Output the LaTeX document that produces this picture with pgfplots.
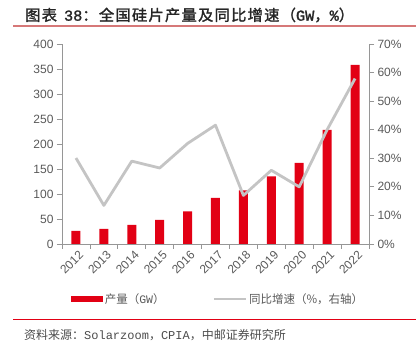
\documentclass[border=0pt]{standalone}
\usepackage{pgfplots}
\pgfplotsset{compat=1.18}
\usepackage{fontspec}
\setmainfont{Liberation Sans}
\newfontfamily\cjk{Noto Sans CJK SC}
\newfontfamily\cjkb{Noto Sans CJK SC}[FakeBold=1.5, LetterSpace=8]
\newfontfamily\mono{Liberation Mono}
\newfontfamily\monob{Liberation Mono}[FakeBold=1.5]
\definecolor{barred}{RGB}{226,0,20}
\definecolor{lgray}{RGB}{196,196,196}
\definecolor{axgray}{RGB}{150,150,150}
\definecolor{txtgray}{RGB}{89,89,89}
\definecolor{titleline}{RGB}{214,120,120}
\begin{document}
\begin{tikzpicture}
\useasboundingbox (0,0) rectangle (416pt,353pt);
% title
\node[anchor=west, inner sep=0pt, text=black!85] at (25pt,338pt)
  {\fontsize{15.3}{17}\selectfont\cjkb 图表\hspace{7pt}{\monob 38}：全国硅片产量及同比增速（{\monob GW}，{\monob\%}）};
\draw[titleline, line width=1.6pt] (13pt,327pt) -- (416pt,327pt);
% source
\draw[barred, line width=1pt] (13pt,33pt) -- (416pt,33pt);
\node[anchor=west, inner sep=0pt, text=black!70] at (24pt,18pt)
  {\fontsize{12}{14}\selectfont\cjk 资料来源：{\mono Solarzoom}，{\mono CPIA}，中邮证券研究所};
\begin{axis}[
  at={(62pt,109pt)}, anchor=south west, scale only axis,
  width=307pt, height=200pt,
  xmin=0, xmax=11, ymin=0, ymax=400,
  ytick={0,50,...,400},
  axis y line*=left, axis x line*=bottom,
  axis line style={axgray, line width=0.8pt},
  xtick={0,...,11},
  xticklabels={2012,2013,2014,2015,2016,2017,2018,2019,2020,2021,2022},
  x tick label as interval,
  tick align=outside, major tick length=5pt,
  tick style={axgray, line width=0.8pt},
  ticklabel style={font=\fontsize{12}{14}\selectfont, text=txtgray},
  xticklabel style={rotate=45, anchor=north east, inner sep=1pt, xshift=2pt, yshift=-1pt},
  /pgf/number format/assume math mode=true,
  clip=false,
]
\addplot[ybar, bar width=9pt, fill=barred, draw=none] coordinates {
(0.5,26) (1.5,30) (2.5,38) (3.5,48) (4.5,65) (5.5,92) (6.5,107) (7.5,135) (8.5,162) (9.5,228) (10.5,358)};
\end{axis}
\begin{axis}[
  at={(62pt,109pt)}, anchor=south west, scale only axis,
  width=307pt, height=200pt,
  xmin=0, xmax=11, ymin=0, ymax=70,
  ytick={0,10,...,70},
  yticklabel={\pgfmathprintnumber{\tick}\%},
  axis y line*=right, axis x line=none,
  axis line style={axgray, line width=0.8pt},
  tick align=outside, major tick length=5pt,
  tick style={axgray, line width=0.8pt},
  ticklabel style={font=\fontsize{12}{14}\selectfont, text=txtgray},
  /pgf/number format/assume math mode=true,
  legend style={font=\cjk\fontsize{11.5}{13}\selectfont, text=txtgray, draw=none, fill=none,
    at={(0.03,-0.275)}, anchor=west, inner sep=0pt,
    /tikz/every even column/.append style={column sep=46pt}},
  legend columns=2, legend cell align=left,
  clip=false,
]
\addlegendimage{legend image code/.code={\fill[barred] (0pt,-2.5pt) rectangle (31pt,2.5pt);}}
\addlegendentry{产量（{\mono GW}）}
\addplot[lgray, line width=2.8pt, line join=round,
  legend image code/.code={\draw[lgray, line width=2.5pt] (0pt,0pt) -- (32pt,0pt);}] coordinates {
(0.5,30.1) (1.5,13.5) (2.5,29.0) (3.5,26.6) (4.5,35.2) (5.5,41.6) (6.5,17.0) (7.5,25.8) (8.5,20.0) (9.5,40.0) (10.5,57.9)};
\addlegendentry{同比增速（\%，右轴）}
\end{axis}
\end{tikzpicture}
\end{document}
